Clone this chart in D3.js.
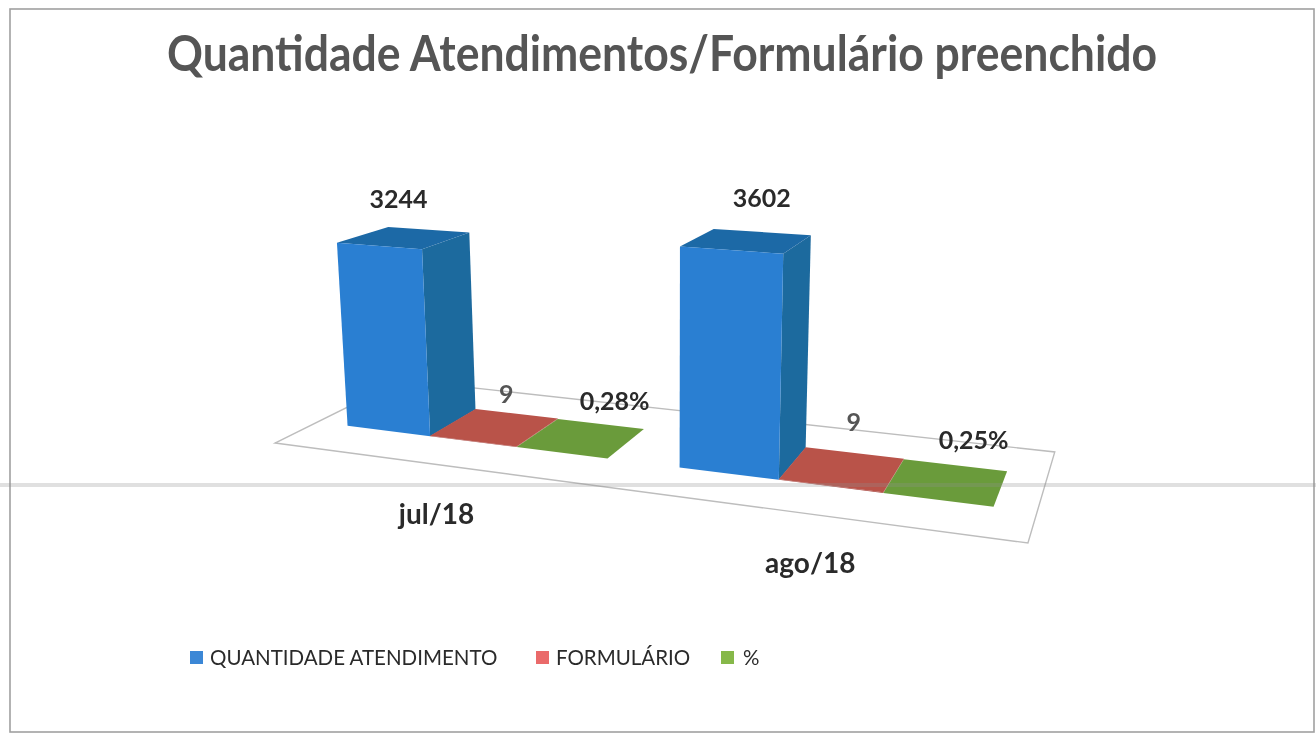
<!DOCTYPE html>
<html>
<head>
<meta charset="utf-8">
<script src="https://cdn.jsdelivr.net/npm/d3@7"></script>
<style>
  html, body {margin: 0; padding: 0; background: #fff;}
  text {font-family: Lato, "Open Sans", sans-serif;}
</style>
</head>
<body>
<svg id="chart" width="1316" height="733"></svg>
<script>
var months = ["jul/18", "ago/18"];
var seriesNames = ["QUANTIDADE ATENDIMENTO", "FORMULÁRIO", "%"];
var quantidade = [3244, 3602];
var formulario = [9, 9];
var percentual = [0.0028, 0.0025];

var seriesValues = [quantidade, formulario, percentual];
var faceColors = [
  {front: "#2a7fd2", side: "#1f6a9e", top: "#1d69a6"},
  {front: "#a8443d", side: "#a8443d", top: "#b9524a"},
  {front: "#5c8a30", side: "#5c8a30", top: "#6b9b3a"}
];
var legendColors = ["#3b87d6", "#ea6a6a", "#86b84a"];
// nudge of each value label from the top of its bar, [series][month]
var labelNudge = [
  [[-6, -36], [15, -40]],
  [[11, -30], [11, -44]],
  [[33, -34], [27, -39]]
];

var br = d3.formatLocale({decimal: ",", thousands: ".", grouping: [3], currency: ["R$", ""]});
var labelFormats = [d3.format("d"), d3.format("d"), br.format(".2%")];

var svg = d3.select("#chart");

// Scanned look: everything is a little soft
svg.append("defs").append("filter").attr("id", "soft")
  .append("feGaussianBlur").attr("stdDeviation", 0.5);

var page = svg.append("g").attr("filter", "url(#soft)");

// Scales on the chart floor: u runs along the months, v goes into the depth
var uMonth = d3.scaleBand().domain(months).range([0, 1]);
var uSeries = d3.scaleBand().domain(d3.range(3)).range([0, uMonth.bandwidth()]).paddingOuter(0.38);
var vDepth = d3.scaleLinear().domain([0, 1]).range([0.3, 0.7]);
var yValue = d3.scaleLinear().domain([0, 1000]).range([0, 54.6]);

// Perspective of the floor, from the four corners seen in the picture
function floorPoint(u, v) {
  var w = 1 - 0.1806 * u + 0.1609 * v;
  return [(567.3 * u + 191.7 * v + 275) / w, (1.93 * u - 1.86 * v + 443) / w];
}

function project(u, v, value) {
  var p = floorPoint(u, v),
      h = yValue(value) * (1 + (p[1] - 410) * 0.00214),
      lean = (p[0] - 670) * 0.00018 * h;
  return [p[0] + lean, p[1] - h];
}

function polygon(points) {
  return d3.line()(points) + "Z";
}

// Chart frame
page.append("rect")
  .attr("x", 10).attr("y", 9)
  .attr("width", 1304).attr("height", 723)
  .attr("fill", "#fff")
  .attr("stroke", "#a0a0a0")
  .attr("stroke-width", 1.6);

// Title
page.append("text")
  .attr("x", 662).attr("y", 71)
  .attr("text-anchor", "middle")
  .attr("font-size", 49)
  .attr("font-weight", 700)
  .attr("fill", "#555")
  .attr("textLength", 990)
  .attr("lengthAdjust", "spacingAndGlyphs")
  .text("Quantidade Atendimentos/Formulário preenchido");

// Floor
page.append("path")
  .attr("d", polygon([floorPoint(0, 0), floorPoint(1, 0), floorPoint(1, 1), floorPoint(0, 1)]))
  .attr("fill", "none")
  .attr("stroke", "#bdbdbd")
  .attr("stroke-width", 1.4);

// Build the bars
var bars = [];
months.forEach(function(month, m) {
  seriesValues.forEach(function(values, s) {
    var u0 = uMonth(month) + uSeries(s);
    bars.push({m: m, s: s, value: values[m], u0: u0, u1: u0 + uSeries.bandwidth()});
  });
});

var barGroups = page.append("g").selectAll("g")
  .data(bars)
  .enter().append("g")
    .attr("class", "bar");

function face(d, corners) {
  return polygon(corners.map(function(c) {
    return project(c[0] ? d.u1 : d.u0, vDepth(c[1]), c[2] ? d.value : 0);
  }));
}

barGroups.append("path")
  .attr("d", function(d) {return face(d, [[1, 0, 0], [1, 1, 0], [1, 1, 1], [1, 0, 1]]);})
  .attr("fill", function(d) {return faceColors[d.s].side;});

barGroups.append("path")
  .attr("d", function(d) {return face(d, [[0, 0, 1], [1, 0, 1], [1, 1, 1], [0, 1, 1]]);})
  .attr("fill", function(d) {return faceColors[d.s].top;});

barGroups.append("path")
  .attr("d", function(d) {return face(d, [[0, 0, 0], [1, 0, 0], [1, 0, 1], [0, 0, 1]]);})
  .attr("fill", function(d) {return faceColors[d.s].front;});

// Value labels
page.append("g").selectAll("text")
  .data(bars)
  .enter().append("text")
    .attr("transform", function(d) {
      var top = project((d.u0 + d.u1) / 2, vDepth(0.5), d.value),
          nudge = labelNudge[d.s][d.m];
      return "translate(" + (top[0] + nudge[0]) + "," + (top[1] + nudge[1]) + ")";
    })
    .attr("text-anchor", "middle")
    .attr("dominant-baseline", "middle")
    .attr("font-size", 25)
    .attr("font-weight", 700)
    .attr("fill", function(d) {return d.s === 1 ? "#555" : "#2b2b2b";})
    .text(function(d) {return labelFormats[d.s](d.value);});

// Month labels, under the front edge of the floor
page.append("g").selectAll("text")
  .data(months)
  .enter().append("text")
    .attr("transform", function(d) {
      var p = floorPoint(uMonth(d) + uMonth.bandwidth() / 2, 0);
      return "translate(" + p[0] + "," + (p[1] + 52) + ")";
    })
    .attr("text-anchor", "middle")
    .attr("dominant-baseline", "middle")
    .attr("font-size", 28)
    .attr("font-weight", 700)
    .attr("fill", "#2b2b2b")
    .text(function(d) {return d;});

// Legend
var legendX = d3.scaleOrdinal().domain(seriesNames).range([190, 536, 721]);
var legend = page.append("g").selectAll("g")
  .data(seriesNames)
  .enter().append("g")
    .attr("transform", function(d) {return "translate(" + legendX(d) + ",651)";});

legend.append("rect")
  .attr("width", 13).attr("height", 13)
  .attr("fill", function(d, i) {return legendColors[i];});

legend.append("text")
  .attr("x", function(d, i) {return i === 2 ? 22 : 20;})
  .attr("y", 9)
  .attr("dominant-baseline", "middle")
  .attr("font-size", 20.5)
  .attr("fill", "#2b2b2b")
  .text(function(d) {return d;});

// Fold of the scanned sheet, across the whole picture
svg.append("line")
  .attr("x1", 0).attr("x2", 1316)
  .attr("y1", 485).attr("y2", 485)
  .attr("stroke", "#8f8f8f")
  .attr("stroke-opacity", 0.28)
  .attr("stroke-width", 4);
</script>
</body>
</html>
